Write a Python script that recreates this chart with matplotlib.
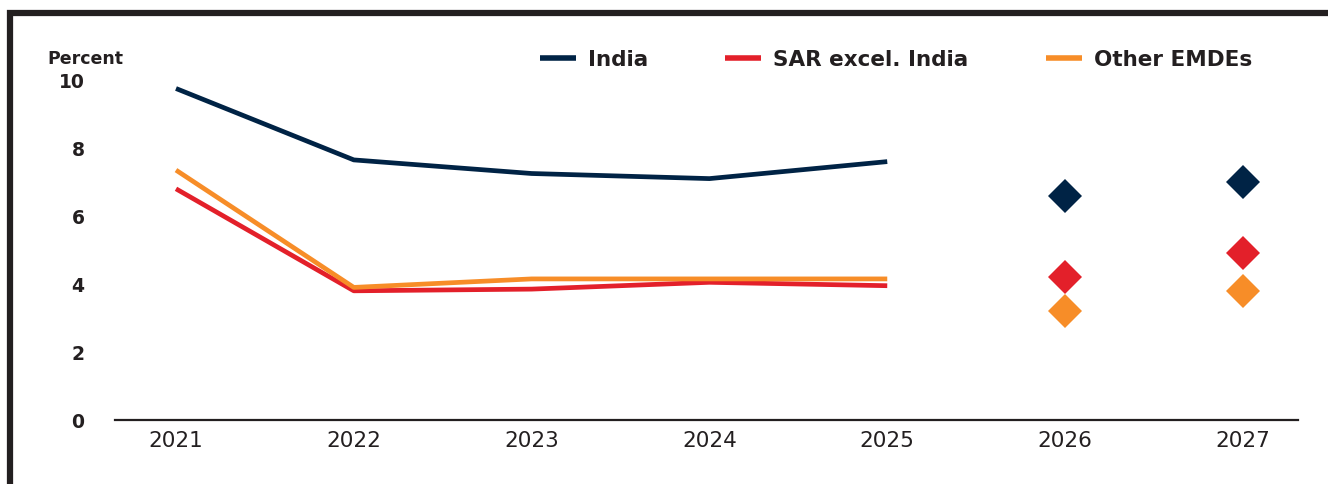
import matplotlib
matplotlib.use("Agg")
import matplotlib.pyplot as plt
from matplotlib.lines import Line2D

# valeurs (pourcentage)
years = ["2021", "2022", "2023", "2024", "2025", "2026", "2027"]
india = [9.75, 7.65, 7.25, 7.1, 7.6]
sar_excl_india = [6.8, 3.8, 3.85, 4.05, 3.95]
other_emdes = [7.35, 3.9, 4.15, 4.15, 4.15]
india_fc = [6.6, 7.0]
sar_fc = [4.2, 4.9]
other_fc = [3.2, 3.8]

navy = "#002345"
red = "#E3202A"
orange = "#F78D28"
ink = "#231F20"

fig = plt.figure(figsize=(13.28, 4.84), dpi=100)
ax = fig.add_axes([0.0866, 0.1322, 0.8908, 0.7025])

x_hist = list(range(len(india)))
x_fc = [5, 6]

ax.plot(x_hist, india, color=navy, lw=3.4, label="India", solid_capstyle="butt")
ax.plot(x_hist, sar_excl_india, color=red, lw=3.4, label="SAR excel. India", solid_capstyle="butt")
ax.plot(x_hist, other_emdes, color=orange, lw=3.4, label="Other EMDEs", solid_capstyle="butt")

# prévisions : losanges
ax.plot(x_fc, india_fc, "D", color=navy, ms=17, mew=0)
ax.plot(x_fc, sar_fc, "D", color=red, ms=17, mew=0)
ax.plot(x_fc, other_fc, "D", color=orange, ms=17, mew=0)

ax.set_xlim(-0.343, 6.31)
ax.set_ylim(0, 10)
ax.set_xticks(range(len(years)))
ax.set_xticklabels(years, fontsize=15.5, color=ink)
ax.set_yticks([0, 2, 4, 6, 8, 10])
ax.set_yticklabels(["0", "2", "4", "6", "8", "10"], fontsize=13.5,
                   fontweight="bold", color=ink)
ax.tick_params(axis="x", length=0, pad=8)
ax.tick_params(axis="y", length=0, pad=22)

for s in ["top", "right", "left"]:
    ax.spines[s].set_visible(False)
ax.spines["bottom"].set_color(ink)
ax.spines["bottom"].set_linewidth(1.6)

fig.text(0.0354, 0.878, "Percent", fontsize=12.5, fontweight="bold",
         color=ink, va="center", ha="left")

leg = ax.legend(loc="center left", bbox_to_anchor=(0.359, 1.059), ncol=3,
                frameon=False, handlelength=1.67, handletextpad=0.56,
                columnspacing=3.6, borderpad=0, borderaxespad=0,
                prop={"weight": "bold", "size": 15.5})
for t in leg.get_texts():
    t.set_color(ink)
for h in leg.get_lines():
    h.set_linewidth(4)

# cadre en haut et à gauche
fig.add_artist(Line2D([10 / 1328, 10 / 1328, 1.0], [0.0, 1 - 13 / 484, 1 - 13 / 484],
                      transform=fig.transFigure, color=ink, lw=4.5,
                      solid_joinstyle="miter"))

fig.savefig("out.png", dpi=100)
